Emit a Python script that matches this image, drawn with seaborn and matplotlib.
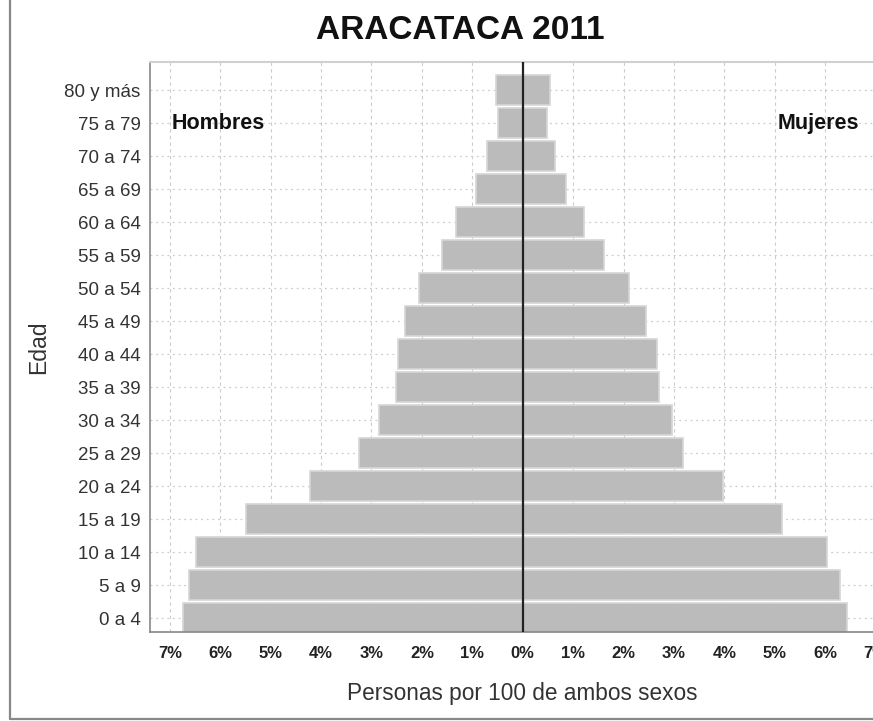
import matplotlib
matplotlib.use("Agg")
import matplotlib.pyplot as plt
from matplotlib.lines import Line2D
import pandas as pd
import seaborn as sns

# Age groups, youngest first
edades = ["0 a 4", "5 a 9", "10 a 14", "15 a 19", "20 a 24", "25 a 29",
          "30 a 34", "35 a 39", "40 a 44", "45 a 49", "50 a 54", "55 a 59",
          "60 a 64", "65 a 69", "70 a 74", "75 a 79", "80 y más"]

# Percent of total population per group
hombres = [6.73, 6.63, 6.48, 5.49, 4.23, 3.24, 2.85, 2.51, 2.47, 2.34,
           2.05, 1.61, 1.32, 0.92, 0.70, 0.50, 0.52]
mujeres = [6.44, 6.29, 6.04, 5.15, 3.97, 3.19, 2.96, 2.70, 2.66, 2.45,
           2.10, 1.62, 1.22, 0.86, 0.64, 0.49, 0.54]

ticks = [-7, -6, -5, -4, -3, -2, -1, 0, 1, 2, 3, 4, 5, 6, 7]
tick_labels = [f"{abs(t)}%" for t in ticks]


def main():
    sns.set_style("white")
    plt.rcParams["font.family"] = ["Liberation Sans", "DejaVu Sans"]

    # long dataframe, men on the negative side
    df = pd.DataFrame({
        "Edad": edades + edades,
        "Sexo": ["Hombres"] * len(edades) + ["Mujeres"] * len(edades),
        "Valor": [-v for v in hombres] + mujeres,
    })

    fig = plt.figure(figsize=(8.73, 7.21), dpi=100)
    ax = fig.add_axes([0.1715, 0.1234, 0.8545, 0.7906])

    sns.barplot(data=df, y="Edad", x="Valor", hue="Sexo", dodge=False,
                order=edades[::-1], orient="h", width=0.92,
                palette={"Hombres": "#bbbbbb", "Mujeres": "#bbbbbb"},
                edgecolor="#d6d6d6", linewidth=1.2, legend=False, ax=ax)

    ax.set_xlim(-7.4, 7.4)
    ax.set_ylim(16.42, -0.85)
    ax.set_xticks(ticks)
    ax.set_xticklabels(tick_labels, fontsize=12, fontweight="bold", color="#222222")
    ax.tick_params(axis="y", labelsize=13.5, labelcolor="#333333", length=3, color="#888888")
    ax.tick_params(axis="x", length=4, color="#888888", pad=6)

    # grid behind the bars
    ax.set_axisbelow(True)
    ax.xaxis.grid(True, color="#cccccc", linestyle=(0, (3, 3)), linewidth=0.8)
    ax.yaxis.grid(True, color="#cccccc", linestyle=(0, (1.5, 3)), linewidth=0.9)

    # center line
    ax.axvline(0, color="#222222", linewidth=1.6, zorder=5)

    for side in ["left", "bottom"]:
        ax.spines[side].set_color("#888888")
        ax.spines[side].set_linewidth(1.2)
    ax.spines["top"].set_color("#d0d0d0")
    ax.spines["top"].set_linewidth(1.5)
    ax.spines["right"].set_visible(False)

    ax.set_xlabel("Personas por 100 de ambos sexos", fontsize=16.3, color="#333333", labelpad=15)
    ax.set_ylabel("Edad", fontsize=16.5, color="#333333", labelpad=10)

    ax.text(-6.97, 1, "Hombres", fontsize=15.5, fontweight="bold", va="center", ha="left", color="#111111")
    ax.text(6.68, 1, "Mujeres", fontsize=15.5, fontweight="bold", va="center", ha="right", color="#111111")

    fig.text(0.527, 0.958, "ARACATACA 2011", ha="center", va="center", fontsize=24,
             fontweight="bold", color="#111111")

    # outer frame (left and bottom edges visible)
    fig.add_artist(Line2D([0.0115, 0.0115], [0.003, 1.0], transform=fig.transFigure,
                          color="#888888", linewidth=1.6))
    fig.add_artist(Line2D([0.0115, 1.0], [0.003, 0.003], transform=fig.transFigure,
                          color="#888888", linewidth=1.6))

    plt.savefig("out.png", dpi=100)


main()
